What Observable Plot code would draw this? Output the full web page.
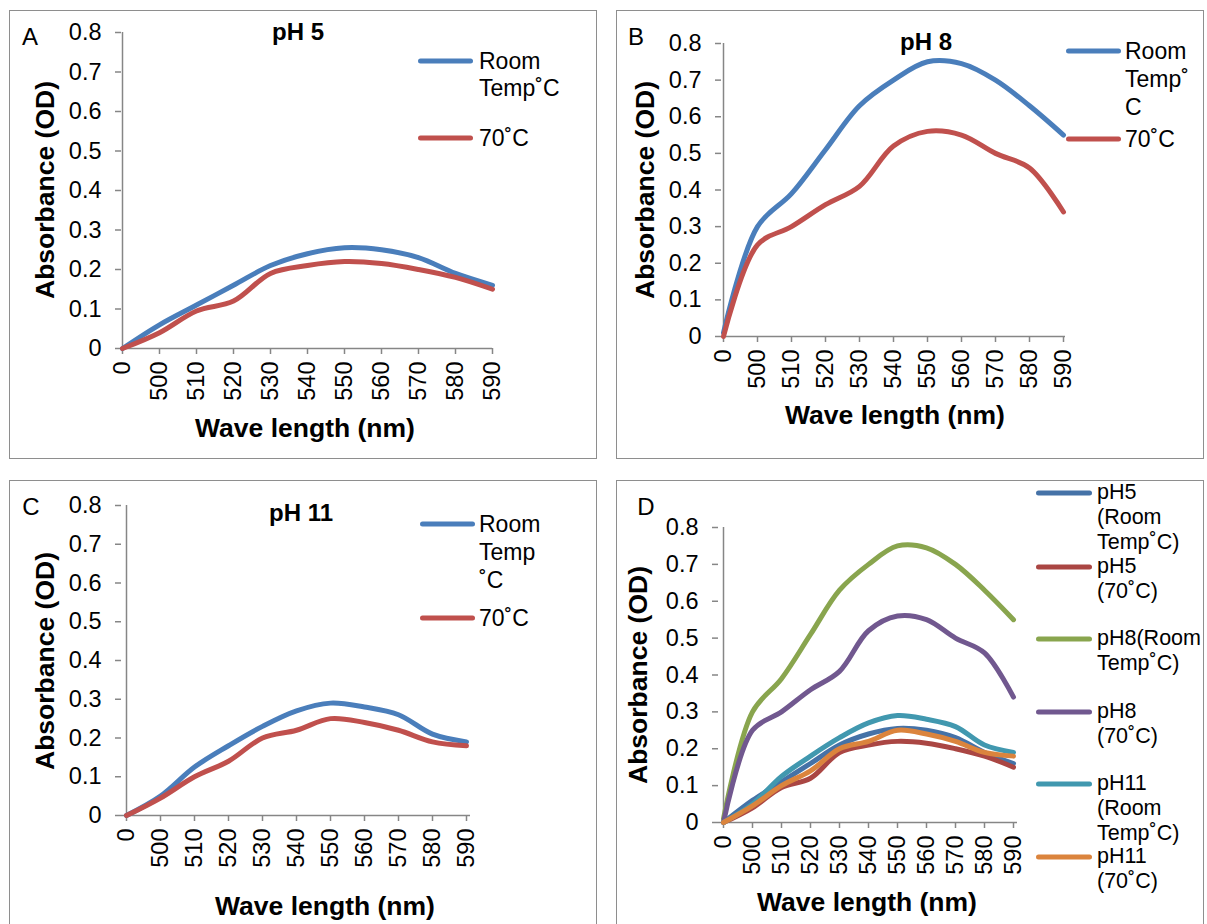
<!DOCTYPE html>
<html><head><meta charset="utf-8">
<script src="https://cdn.jsdelivr.net/npm/d3@7"></script>
<script src="https://cdn.jsdelivr.net/npm/@observablehq/plot@0.6"></script>
<style>
body{margin:0;background:#fff;}
#page{position:relative;width:1207px;height:924px;overflow:hidden;font-family:"Liberation Sans",Arial,sans-serif;color:#000;background:#fff;}
#page svg{position:absolute;overflow:visible;}
#page svg text{font-family:"Liberation Sans",Arial,sans-serif;font-size:23.5px;fill:#000;}
.panel{position:absolute;border:1.5px solid #8e8e8e;box-sizing:border-box;}
.t{position:absolute;white-space:nowrap;line-height:1;}
.c{transform:translate(-50%,-50%);}
.l{transform:translateY(-50%);}
.b{font-weight:bold;}
.sw{position:absolute;height:5px;border-radius:3px;transform:translateY(-50%);}
</style>
</head><body>
<div id="page"></div>
<script>
// ---- data ----
const wavelengths = ["0","500","510","520","530","540","550","560","570","580","590"];
const yTicks = [0,0.1,0.2,0.3,0.4,0.5,0.6,0.7,0.8];
const pH5Room  = [0, 0.06, 0.11, 0.16, 0.21, 0.24, 0.255, 0.25, 0.23, 0.19, 0.16];
const pH5Hot   = [0, 0.04, 0.095, 0.12, 0.19, 0.21, 0.22, 0.215, 0.20, 0.18, 0.15];
const pH8Room  = [0.01, 0.30, 0.39, 0.51, 0.63, 0.70, 0.75, 0.745, 0.70, 0.63, 0.55];
const pH8Hot   = [0, 0.25, 0.30, 0.36, 0.41, 0.52, 0.56, 0.55, 0.50, 0.46, 0.34];
const pH11Room = [0, 0.05, 0.125, 0.18, 0.23, 0.27, 0.29, 0.28, 0.26, 0.21, 0.19];
const pH11Hot  = [0, 0.045, 0.10, 0.14, 0.20, 0.22, 0.25, 0.24, 0.22, 0.19, 0.18];

const xTitle = "Wave length (nm)";
const yTitle = "Absorbance (OD)";

// ---- styles ----
const BLUE = "#4a7ebb", RED = "#c0504d";
const D_COLORS = ["#4572a7","#aa4643","#89a54e","#71588f","#4198af","#db843d"];
const AXIS = "#868686";

const panels = [
  {letter:"A", title:"pH 5", box:[9,10,588,449], ox:0, oy:0, w:605, h:470, x0:121, x1:492, yTop:32, yBot:348,
   letterPos:[30,37], titlePos:[298,32], yT:[45,190], xT:[305,428],
   series:[{v:pH5Room,c:BLUE},{v:pH5Hot,c:RED}],
   legend:{sx:[418,473], tx:479, lh:27, items:[{y:61,c:BLUE,lines:["Room","Temp˚C"]},{y:138,c:RED,lines:["70˚C"]}]}},
  {letter:"B", title:"pH 8", box:[616,10,588,449], ox:605, oy:0, w:602, h:470, x0:721, x1:1065, yTop:43, yBot:336,
   letterPos:[636,37], titlePos:[926,42], yT:[645,190], xT:[895,415],
   series:[{v:pH8Room,c:BLUE},{v:pH8Hot,c:RED}],
   legend:{sx:[1066,1121], tx:1125, lh:28, items:[{y:51,c:BLUE,lines:["Room","Temp˚","C"]},{y:139,c:RED,lines:["70˚C"]}]}},
  {letter:"C", title:"pH 11", box:[9,480,588,460], ox:0, oy:470, w:605, h:454, x0:121, x1:470, yTop:505, yBot:815,
   letterPos:[31,507], titlePos:[301,513], yT:[45,661], xT:[325,906],
   series:[{v:pH11Room,c:BLUE},{v:pH11Hot,c:RED}],
   legend:{sx:[420,475], tx:479, lh:28, items:[{y:524,c:BLUE,lines:["Room","Temp","˚C"]},{y:618,c:RED,lines:["70˚C"]}]}},
  {letter:"D", title:"", box:[616,480,588,460], ox:605, oy:470, w:602, h:454, x0:718, x1:1017, yTop:527, yBot:822,
   letterPos:[646,507], titlePos:null, yT:[638,675], xT:[867,902],
   series:[pH5Room,pH5Hot,pH8Room,pH8Hot,pH11Room,pH11Hot].map((v,i)=>({v,c:D_COLORS[i]})),
   legend:{sx:[1036,1092], tx:1097, lh:25, fs:21.5, items:[
     {y:493,c:D_COLORS[0],lines:["pH5","(Room","Temp˚C)"]},
     {y:567,c:D_COLORS[1],lines:["pH5","(70˚C)"]},
     {y:639,c:D_COLORS[2],lines:["pH8(Room","Temp˚C)"]},
     {y:712,c:D_COLORS[3],lines:["pH8","(70˚C)"]},
     {y:784,c:D_COLORS[4],lines:["pH11","(Room","Temp˚C)"]},
     {y:857,c:D_COLORS[5],lines:["pH11","(70˚C)"]}]}}
];

const page = document.getElementById("page");
function addText(txt, x, y, cls, size){
  const d = document.createElement("div");
  d.className = "t " + cls;
  d.textContent = txt;
  d.style.left = x + "px"; d.style.top = y + "px";
  if (size) d.style.fontSize = size + "px";
  page.appendChild(d);
  return d;
}

for (const P of panels) {
  const svg = Plot.plot({
    width: P.w, height: P.h,
    marginLeft: P.x0 - P.ox, marginRight: P.ox + P.w - P.x1,
    marginTop: P.yTop - P.oy, marginBottom: P.oy + P.h - P.yBot,
    x: {type:"point", domain: wavelengths, padding: 0, label: null},
    y: {domain: [0, 0.8], label: null},
    style: {background: "transparent", overflow: "visible"},
    marks: [
      Plot.axisY({ticks: yTicks, tickSize: 6, tickPadding: 14, stroke: AXIS, strokeWidth: 1.5, fill: "#000",
                  tickFormat: d => d === 0 ? "0" : d.toFixed(1), label: null}),
      Plot.axisX({tickSize: 6, tickPadding: 7, tickRotate: -90, stroke: AXIS, strokeWidth: 1.5, fill: "#000", label: null}),
      Plot.ruleY([0], {stroke: AXIS, strokeWidth: 1.5}),
      Plot.ruleX([wavelengths[0]], {stroke: AXIS, strokeWidth: 1.5}),
      ...P.series.map(s => Plot.line(wavelengths, {x: d => d, y: (d, i) => s.v[i], stroke: s.c, strokeWidth: 5,
                  curve: "catmull-rom", strokeLinecap: "round", strokeLinejoin: "round"}))
    ]
  });
  svg.style.left = P.ox + "px"; svg.style.top = P.oy + "px";
  page.appendChild(svg);

  const box = document.createElement("div");
  box.className = "panel";
  box.style.left = P.box[0] + "px"; box.style.top = P.box[1] + "px";
  box.style.width = P.box[2] + "px"; box.style.height = P.box[3] + "px";
  page.appendChild(box);

  addText(P.letter, P.letterPos[0], P.letterPos[1], "c", 24);
  if (P.title) addText(P.title, P.titlePos[0], P.titlePos[1], "c b", 24);
  const yt = addText(yTitle, P.yT[0], P.yT[1], "b", 26.5);
  yt.style.transform = "translate(-50%,-50%) rotate(-90deg)";
  addText(xTitle, P.xT[0], P.xT[1], "c b", 26.5);

  const L = P.legend;
  for (const it of L.items) {
    const sw = document.createElement("div");
    sw.className = "sw";
    sw.style.left = L.sx[0] + "px"; sw.style.width = (L.sx[1] - L.sx[0]) + "px";
    sw.style.top = it.y + "px"; sw.style.background = it.c;
    page.appendChild(sw);
    it.lines.forEach((ln, k) => addText(ln, L.tx, it.y + k * L.lh, "l", L.fs || 23));
  }
}
</script>
</body></html>
